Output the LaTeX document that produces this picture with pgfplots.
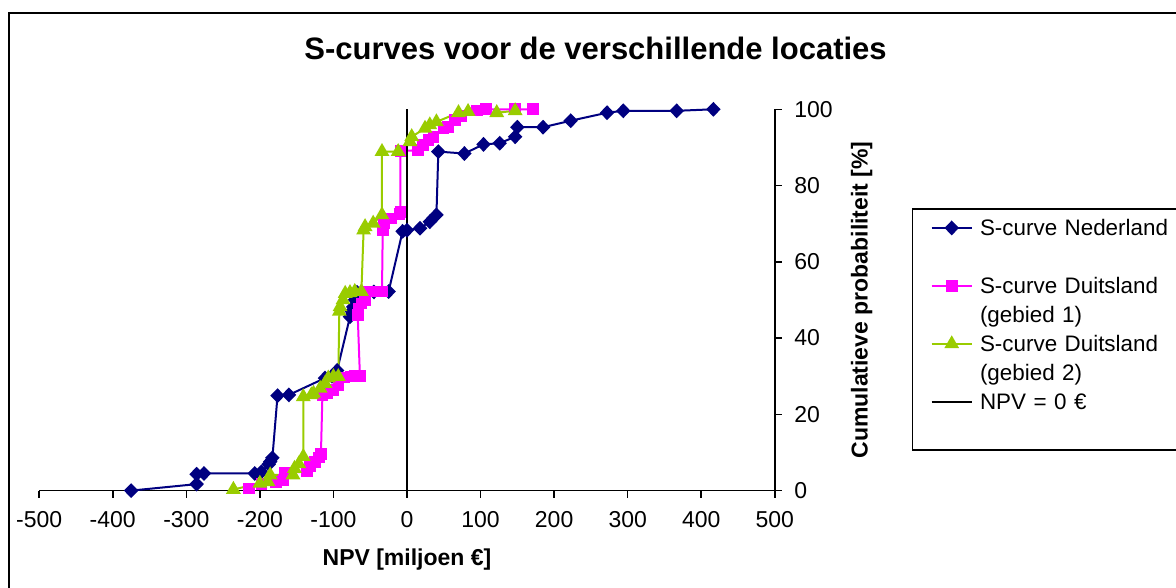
\documentclass[border=0pt]{standalone}
\usepackage{pgfplots}
\pgfplotsset{compat=1.18}
\usepackage{fontspec}
\setmainfont{Liberation Sans}
\definecolor{cblue}{RGB}{0,0,128}
\definecolor{cpink}{RGB}{255,0,255}
\definecolor{cgreen}{RGB}{153,204,0}
\begin{document}
\begin{tikzpicture}[x=1pt,y=1pt]
\path[use as bounding box] (0,0) rectangle (588,294);
\draw[line width=1pt] (4.65,287.65) rectangle (620,-20);
\begin{axis}[
  at={(19.6pt,48.7pt)}, anchor=south west,
  scale only axis, width=367.8pt, height=190.65pt,
  xmin=-500, xmax=500, ymin=0, ymax=100,
  axis x line=bottom, axis y line=right,
  axis line style={-, line width=0.75pt, black},
  xtick={-500,-400,...,500}, ytick={0,20,...,100},
  tick align=outside, major tick length=3.5pt,
  tick style={line width=0.75pt, black},
  minor tick num=0,
  ticklabel style={font=\fontsize{11.5}{13}\selectfont},
  /pgf/number format/assume math mode=true,
  xticklabel style={yshift=-3.5pt},
  yticklabel style={xshift=2.7pt},
  clip=false,
  title={S-curves voor de verschillende locaties},
  title style={font=\bfseries\fontsize{15.5}{18}\selectfont, at={(axis description cs:0.7563,1.1555)}, anchor=center, yshift=-5pt},
  xlabel={NPV [miljoen €]},
  xlabel style={font=\bfseries\fontsize{11.5}{13}\selectfont, at={(axis description cs:0.5,-0.182)}, anchor=center},
  ylabel={Cumulatieve probabiliteit [\%]},
  ylabel style={font=\bfseries\fontsize{11.5}{13}\selectfont, at={(axis description cs:1.118,0.5)}, anchor=center},
  legend style={at={(axis description cs:1.186,0.7411)}, anchor=north west, draw=black, line width=0.8pt, fill=white, inner xsep=9pt, inner ysep=2.3pt, row sep=0pt, column sep=3.5pt, font=\fontsize{11.2}{13}\selectfont, nodes={inner sep=0pt, text height=11pt, text depth=3.5pt, text width=106pt, align=left}},
  legend cell align=left,
  legend image code/.code={\draw[mark repeat=2,mark phase=2] plot coordinates {(0pt,0pt) (10pt,0pt) (20pt,0pt)};},
]
\addplot[color=cblue, line width=1pt, mark=diamond*, mark size=3pt, mark options={solid, fill=cblue, draw=cblue, xscale=1.3}] coordinates {
(-375,0) (-286,1.7) (-286,4.3) (-276,4.5) (-207,4.5) (-198,4.9) (-188,6.9) (-186,7.6) (-183,8.6)
(-176,24.9) (-160.5,25.1) (-111.5,29.5) (-102,30) (-95,31.5) (-77.5,45.6) (-75,47) (-73,48.2)
(-70.7,50) (-68,52) (-45,52.1) (-25,52.2) (-6,68) (0,68.3) (17.7,68.8) (31,70.5) (40,72.3)
(42.6,88.9) (78,88.4) (104,90.8) (126,91.1) (147,92.8) (150,95.3) (185,95.3) (222.5,97)
(272,99.1) (294,99.6) (366.6,99.6) (416.5,100)
};
\addlegendentry{S-curve Nederland}
\addlegendimage{empty legend}\addlegendentry{}
\addplot[color=cpink, line width=1pt, mark=square*, mark size=2.4pt, mark options={solid, fill=cpink, draw=cpink}] coordinates {
(-215,0.6) (-198,1.7) (-178,2.3) (-168,2.8) (-166,4.6) (-136,5) (-132,6.5) (-125,7.5) (-120,8.7)
(-117,9.6) (-115,25) (-109,25.5) (-100,26.4) (-93,27.7) (-86,29.7) (-77,29.9) (-71,30) (-64,30)
(-67,46) (-66,47.8) (-62,49.1) (-57,50) (-55,52.2) (-46,52.2) (-34,52.2) (-33,68.2) (-31,70)
(-21,71.4) (-10,72.5) (-9,73.1) (-9,89) (15,89.3) (22,90.6) (29,92) (36,92.8) (49.5,95) (56,95.4)
(65,97.2) (74,98.2) (95,99.7) (107,100) (147,100) (171,100)
};
\addlegendentry{S-curve Duitsland}
\addlegendimage{empty legend}\addlegendentry{(gebied 1)}
\addplot[color=cgreen, line width=1pt, mark=triangle*, mark size=3.3pt, mark options={solid, fill=cgreen, draw=cgreen}] coordinates {
(-236,0.3) (-200,1.9) (-189,2.3) (-186,4.1) (-155,4.1) (-153,5.8) (-147,7) (-141,8.9) (-141,24.6)
(-130,25.1) (-127,25.5) (-118,26.8) (-111.5,28.1) (-107,29.5) (-100,29.9) (-93.4,29.9) (-92,47)
(-91,48.2) (-87,50) (-84,51.7) (-77.5,51.9) (-71,52.2) (-62,52.2) (-59,68.3) (-57,69.2) (-46,70.1)
(-34,72.3) (-34,88.9) (-12,88.9) (4,91.5) (6.4,92.8) (24.5,95) (31,95.9) (40,96.7) (70,99.1)
(83,99.4) (122,99.1) (147,99.6)
};
\addlegendentry{S-curve Duitsland}
\addlegendimage{empty legend}\addlegendentry{(gebied 2)}
\addplot[color=black, line width=1.3pt, no markers] coordinates {(0,0) (0,100)};
\addlegendentry{NPV = 0 €}
\addlegendimage{empty legend}\addlegendentry{}
\end{axis}
\end{tikzpicture}
\end{document}
